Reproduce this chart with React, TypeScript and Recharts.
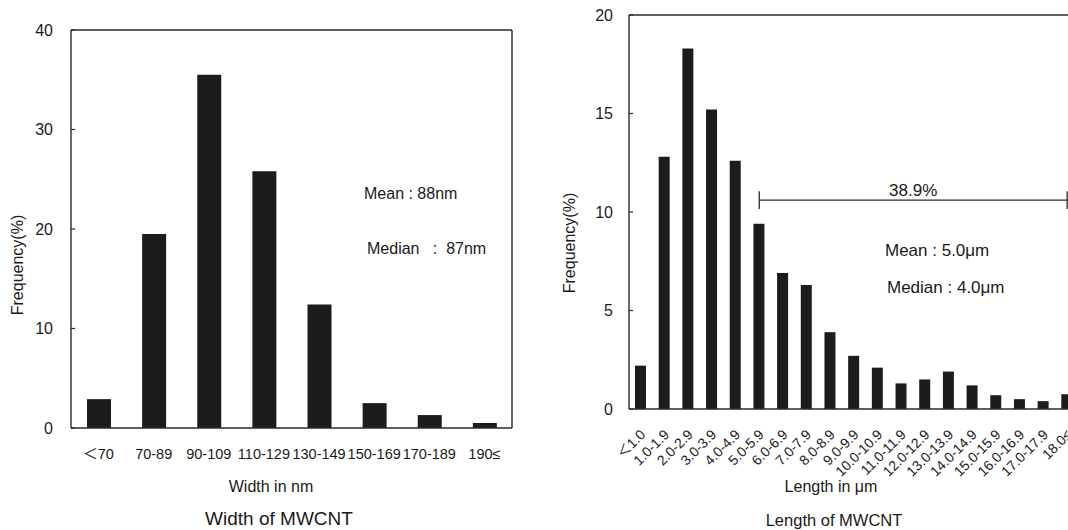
import React from 'react';
import { BarChart, Bar, XAxis, YAxis, ReferenceLine } from 'recharts';

// ---- Width of MWCNT ----
const widthCategories = ['＜70', '70-89', '90-109', '110-129', '130-149', '150-169', '170-189', '190≤'];
const widthFrequency = [2.9, 19.5, 35.5, 25.8, 12.4, 2.5, 1.3, 0.5];
const widthYTicks = [0, 10, 20, 30, 40];

// ---- Length of MWCNT ----
const lengthCategories = [
  '＜1.0', '1.0-1.9', '2.0-2.9', '3.0-3.9', '4.0-4.9', '5.0-5.9', '6.0-6.9', '7.0-7.9',
  '8.0-8.9', '9.0-9.9', '10.0-10.9', '11.0-11.9', '12.0-12.9', '13.0-13.9', '14.0-14.9',
  '15.0-15.9', '16.0-16.9', '17.0-17.9', '18.0≤',
];
const lengthFrequency = [2.2, 12.8, 18.3, 15.2, 12.6, 9.4, 6.9, 6.3, 3.9, 2.7, 2.1, 1.3, 1.5, 1.9, 1.2, 0.7, 0.5, 0.4, 0.75];
const lengthYTicks = [0, 5, 10, 15, 20];

// bracket annotation
const bracketStart = '5.0-5.9';
const bracketEnd = '18.0≤';
const bracketValue = 10.6;
const bracketCap = 0.45;
const bracketLabel = '38.9%';

const FONT = '"Liberation Sans", Arial, "Noto Sans CJK JP", sans-serif';
const INK = '#1a1a1a';
const LINE = '#2a2a2a';
const BAR = '#1c1c1c';

const widthData = widthCategories.map((c, i) => ({ category: c, frequency: widthFrequency[i] }));
const lengthData = lengthCategories.map((c, i) => ({ category: c, frequency: lengthFrequency[i] }));
const widthBoundaries = widthCategories.slice(1).map((_, i) => i + 1);
const lengthBoundaries = lengthCategories.slice(1).map((_, i) => i + 1);

const RotatedTick = (props: any) => {
  const { x, y, payload } = props;
  return (
    <g transform={`translate(${x + 2},${y})`}>
      <text x={0} y={0} dy="0.35em" textAnchor="end" transform="rotate(-45)" fontSize={14} fill={INK}>
        {payload.value}
      </text>
    </g>
  );
};

export default function App() {
  return (
    <div
      style={{
        position: 'absolute', left: 0, top: 0, width: 1068, height: 530,
        overflow: 'hidden', background: '#fff', fontFamily: FONT,
      }}
    >
      <div style={{ position: 'absolute', left: 0, top: 0 }}>
        <BarChart width={520} height={530} data={widthData} margin={{ top: 29, right: 7, bottom: 0, left: 0 }}>
          <XAxis
            xAxisId={0} type="number" domain={[0, widthCategories.length]} ticks={widthBoundaries}
            allowDataOverflow height={1} tick={false} tickSize={-4}
            axisLine={{ stroke: LINE, strokeWidth: 1.4 }} tickLine={{ stroke: LINE, strokeWidth: 1.2 }}
          />
          <XAxis
            xAxisId={1} dataKey="category" height={101} axisLine={false} tickLine={false}
            tickSize={0} tickMargin={20} interval={0} tick={{ fontSize: 14.5, fill: INK }}
          />
          <XAxis
            xAxisId={2} orientation="top" dataKey="category" height={1} tick={false}
            tickLine={false} axisLine={{ stroke: LINE, strokeWidth: 1.4 }}
          />
          <YAxis
            yAxisId={0} width={71} domain={[0, 40]} ticks={widthYTicks} interval={0}
            tickSize={-4} tickMargin={22} tick={{ fontSize: 16, fill: INK }}
            axisLine={{ stroke: LINE, strokeWidth: 1.4 }} tickLine={{ stroke: LINE, strokeWidth: 1.2 }}
          />
          <YAxis
            yAxisId={1} orientation="right" width={1} domain={[0, 1]} tick={false}
            tickLine={false} axisLine={{ stroke: LINE, strokeWidth: 1.4 }}
          />
          <Bar dataKey="frequency" xAxisId={1} yAxisId={0} fill={BAR} barSize={24} isAnimationActive={false} />
        </BarChart>
      </div>

      <div style={{ position: 'absolute', left: 540, top: 0 }}>
        <BarChart width={540} height={530} data={lengthData} margin={{ top: 14, right: 0, bottom: 0, left: 0 }}>
          <XAxis
            xAxisId={0} type="number" domain={[0, lengthCategories.length]} ticks={lengthBoundaries}
            allowDataOverflow height={1} tick={false} tickSize={-4}
            axisLine={{ stroke: LINE, strokeWidth: 1.4 }} tickLine={{ stroke: LINE, strokeWidth: 1.2 }}
          />
          <XAxis
            xAxisId={1} dataKey="category" height={120} axisLine={false} tickLine={false}
            tickSize={0} tickMargin={22} interval={0} tick={<RotatedTick />}
          />
          <XAxis
            xAxisId={2} orientation="top" dataKey="category" height={1} tick={false}
            tickLine={false} axisLine={{ stroke: LINE, strokeWidth: 1.4 }}
          />
          <YAxis
            yAxisId={0} width={89} domain={[0, 20]} ticks={lengthYTicks} interval={0}
            tickSize={-4} tickMargin={20} tick={{ fontSize: 16, fill: INK }}
            axisLine={{ stroke: LINE, strokeWidth: 1.4 }} tickLine={{ stroke: LINE, strokeWidth: 1.2 }}
          />
          <YAxis
            yAxisId={1} orientation="right" width={1} domain={[0, 1]} tick={false}
            tickLine={false} axisLine={{ stroke: LINE, strokeWidth: 1.4 }}
          />
          <Bar dataKey="frequency" xAxisId={1} yAxisId={0} fill={BAR} barSize={11} isAnimationActive={false} />
          <ReferenceLine
            xAxisId={1} yAxisId={0} ifOverflow="visible" stroke={LINE} strokeWidth={1.3}
            segment={[{ x: bracketStart, y: bracketValue }, { x: bracketEnd, y: bracketValue }]}
            label={{ value: bracketLabel, position: 'top', offset: 4, fontSize: 17, fill: INK }}
          />
          <ReferenceLine
            xAxisId={1} yAxisId={0} ifOverflow="visible" stroke={LINE} strokeWidth={1.3}
            segment={[{ x: bracketStart, y: bracketValue - bracketCap }, { x: bracketStart, y: bracketValue + bracketCap }]}
          />
          <ReferenceLine
            xAxisId={1} yAxisId={0} ifOverflow="visible" stroke={LINE} strokeWidth={1.3}
            segment={[{ x: bracketEnd, y: bracketValue - bracketCap }, { x: bracketEnd, y: bracketValue + bracketCap }]}
          />
        </BarChart>
      </div>

      <svg
        width={1068} height={530}
        style={{ position: 'absolute', left: 0, top: 0, pointerEvents: 'none', fontFamily: FONT }}
      >
        <g fill={INK}>
          <text x={364} y={199} fontSize={16}>Mean : 88nm</text>
          <text x={367} y={254} fontSize={16} style={{ whiteSpace: 'pre' }}>{'Median   :  87nm'}</text>
          <text x={271} y={492} fontSize={16} textAnchor="middle">Width in nm</text>
          <text x={279} y={525} fontSize={19} textAnchor="middle">Width of MWCNT</text>
          <text transform="translate(23,265) rotate(-90)" fontSize={16} textAnchor="middle">Frequency(%)</text>

          <text x={885} y={256} fontSize={17}>Mean : 5.0μm</text>
          <text x={887} y={293} fontSize={17}>Median : 4.0μm</text>
          <text x={831} y={492} fontSize={16} textAnchor="middle">Length in μm</text>
          <text x={834} y={526} fontSize={16.5} textAnchor="middle">Length of MWCNT</text>
          <text transform="translate(575,243) rotate(-90)" fontSize={16} textAnchor="middle">Frequency(%)</text>
        </g>
      </svg>
    </div>
  );
}
